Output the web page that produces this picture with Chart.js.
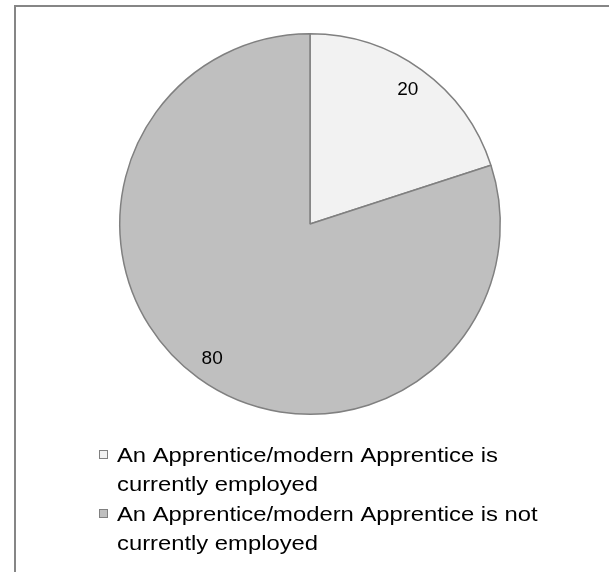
<!DOCTYPE html>
<html>
<head>
<meta charset="utf-8">
<script src="https://cdn.jsdelivr.net/npm/chart.js@4.4.1/dist/chart.umd.min.js"></script>
<style>
    html, body { margin: 0; padding: 0; background: #fff; }
    #wrap { position: relative; width: 609px; height: 572px; }
    #frame {
        position: absolute; left: 14px; top: 5px; right: -2px; bottom: -2px;
        border-top: 2px solid #868686; border-left: 2px solid #868686;
    }
    canvas { position: absolute; left: 0; top: 0; }
</style>
</head>
<body>
<div id="wrap">
    <div id="frame"></div>
    <canvas id="chart" width="609" height="572"></canvas>
</div>
<script>
const categories = [
    ['An Apprentice/modern Apprentice is', 'currently employed'],
    ['An Apprentice/modern Apprentice is not', 'currently employed']
];
const values = [20, 80];
const sliceColors = ['#f2f2f2', '#bfbfbf'];
const edgeColor = '#808080';
const fontFamily = '"Liberation Sans", Arial, sans-serif';

// value labels inside each slice
const sliceLabels = {
    id: 'sliceLabels',
    afterDatasetsDraw(chart) {
        const ctx = chart.ctx;
        const meta = chart.getDatasetMeta(0);
        ctx.save();
        ctx.font = '19px ' + fontFamily;
        ctx.fillStyle = '#000';
        ctx.textAlign = 'center';
        ctx.textBaseline = 'middle';
        meta.data.forEach((arc, i) => {
            const p = arc.getProps(['x', 'y', 'startAngle', 'endAngle', 'outerRadius'], true);
            const mid = (p.startAngle + p.endAngle) / 2;
            const d = p.outerRadius * 0.875;
            ctx.fillText(String(chart.data.datasets[0].data[i]), p.x + Math.cos(mid) * d, p.y + Math.sin(mid) * d);
        });
        ctx.restore();
    }
};

// two-line legend under the pie (text is a bit wide, so stretch it)
const wrappedLegend = {
    id: 'wrappedLegend',
    afterDraw(chart) {
        const ctx = chart.ctx;
        const boxX = 99, textX = 117, stretch = 1.19;
        let y = 462;
        ctx.save();
        ctx.font = '20px ' + fontFamily;
        ctx.textBaseline = 'alphabetic';
        chart.data.labels.forEach((lines, i) => {
            ctx.fillStyle = sliceColors[i];
            ctx.fillRect(boxX + 0.5, y - 11.5, 8, 8);
            ctx.strokeStyle = edgeColor;
            ctx.lineWidth = 1;
            ctx.strokeRect(boxX + 0.5, y - 11.5, 8, 8);
            ctx.fillStyle = '#000';
            lines.forEach((t, j) => {
                ctx.save();
                ctx.translate(textX, y + j * 28.5);
                ctx.scale(stretch, 1);
                ctx.fillText(t, 0, 0);
                ctx.restore();
            });
            y += 59;
        });
        ctx.restore();
    }
};

new Chart(document.getElementById('chart'), {
    type: 'pie',
    data: {
        labels: categories,
        datasets: [{
            data: values,
            backgroundColor: sliceColors,
            borderColor: edgeColor,
            borderWidth: 1.5
        }]
    },
    options: {
        responsive: false,
        animation: false,
        layout: { padding: { left: 119, right: 108, top: 33, bottom: 157 } },
        plugins: {
            legend: { display: false },
            tooltip: { enabled: false }
        }
    },
    plugins: [sliceLabels, wrappedLegend]
});
</script>
</body>
</html>
